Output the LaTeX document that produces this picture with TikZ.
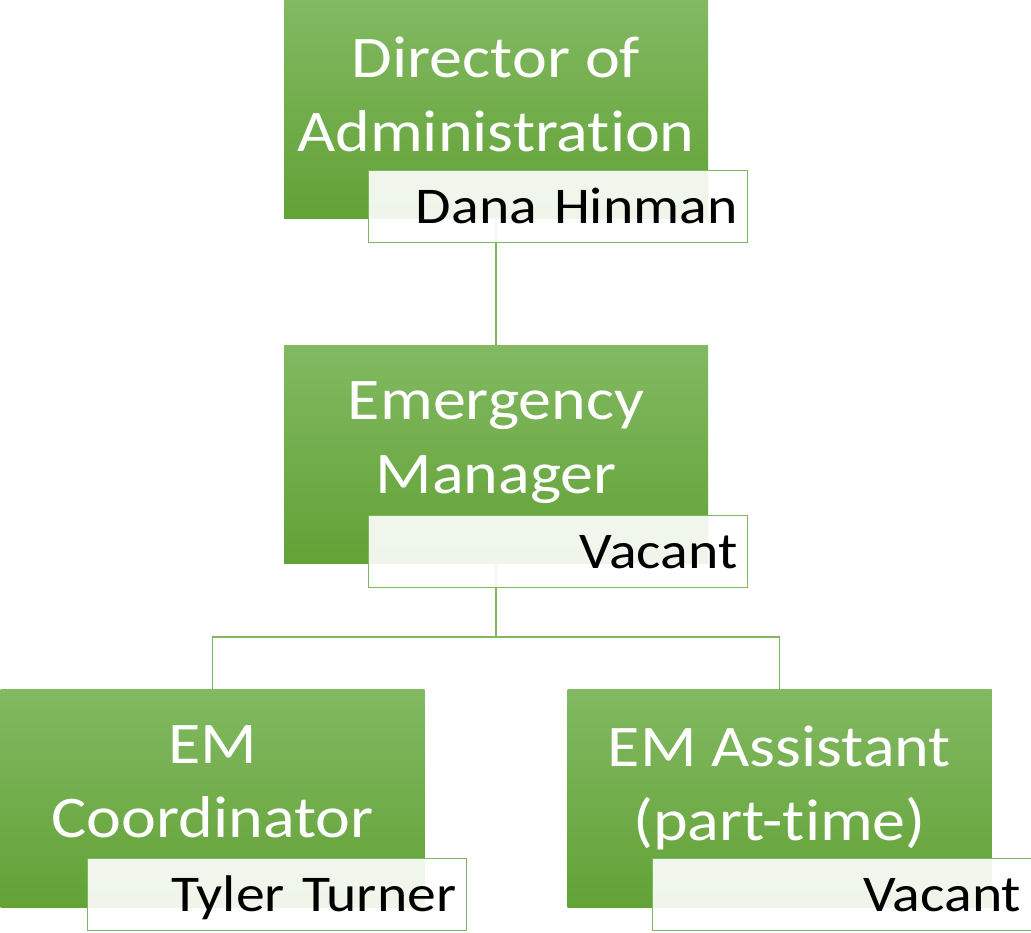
\documentclass[tikz,border=0pt]{standalone}
\usepackage{fontspec}
\setmainfont{Carlito}[FakeStretch=1.12, Ligatures={NoCommon}]
\usetikzlibrary{positioning, calc}

\definecolor{rolelight}{RGB}{130,185,98}
\definecolor{roledark}{RGB}{98,162,54}
\definecolor{nameline}{RGB}{128,182,94}

\tikzset{
	role/.style={minimum width=424pt, minimum height=218pt, inner sep=0pt,%
				top color=rolelight, bottom color=roledark, draw=none},
	roletext/.style={anchor=north, inner sep=0pt, align=center, text=white,%
				font=\fontsize{59}{74}\selectfont},
	namebox/.style={anchor=north east, draw=nameline, line width=1.2pt, fill=white,%
				fill opacity=0.9, text opacity=1, text width=359pt, align=right,%
				inner xsep=10pt, inner ysep=0pt, minimum height=72pt,%
				text height=34pt, text depth=0pt, font=\fontsize{51.5}{62}\selectfont},
	link/.style={draw=nameline, line width=1.2pt}
}

\begin{document}
\begin{tikzpicture}[x=1pt, y=-1pt]
	\useasboundingbox (0,0) rectangle (1031,932);
	% green role boxes
	\node [role] (dir) at (496,109) {};
	\node [role] (em) at (496,454) {};
	\node [role] (coord) at (212.5,798) {};
	\node [role] (asst) at (779.5,798) {};
	\node [roletext] (dir-t) at ([yshift=-37pt]dir.north) {Director of\\Administration};
	\node [roletext] (em-t) at ([yshift=-37pt]em.north) {Emergency\\Manager};
	\node [roletext] (coord-t) at ([yshift=-37pt]coord.north) {EM\\Coordinator};
	\node [roletext] (asst-t) at ([yshift=-37pt]asst.north) {EM Assistant\\(part-time)};
	% reporting lines
	\coordinate (bus) at (496,637);
	\draw [link] (dir.south) -- (em.north);
	\draw [link] (em.south) -- (bus);
	\foreach \n in {coord, asst}	\draw [link] (bus) -| (\n.north);
	% names of the holders
	\node [namebox] (dir-n) at ([xshift=40pt, yshift=48pt]dir.south east) {Dana Hinman};
	\node [namebox] (em-n) at ([xshift=40pt, yshift=48pt]em.south east) {Vacant};
	\node [namebox] (coord-n) at ([xshift=42pt, yshift=49pt]coord.south east) {Tyler Turner};
	\node [namebox] (asst-n) at ([xshift=40pt, yshift=49pt]asst.south east) {Vacant};
\end{tikzpicture}
\end{document}
